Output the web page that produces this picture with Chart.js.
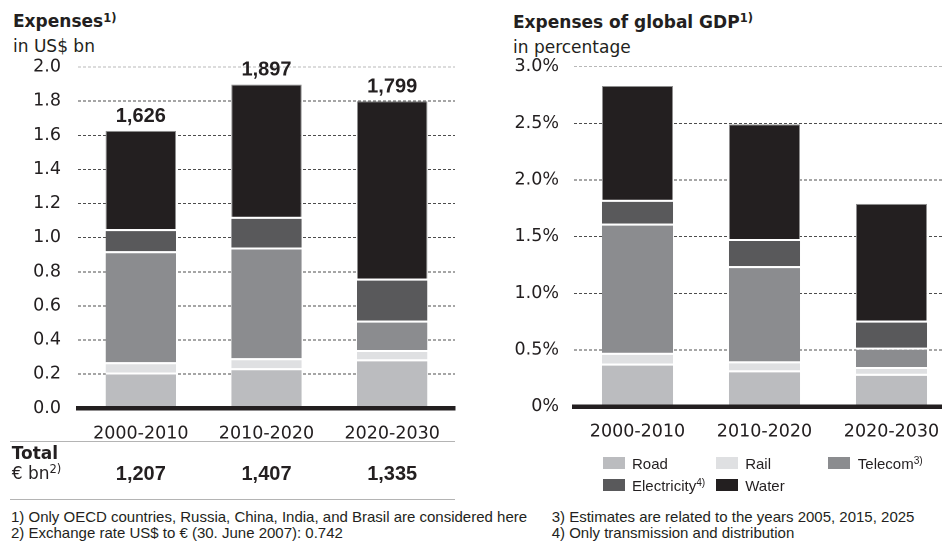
<!DOCTYPE html>
<html>
<head>
<meta charset="utf-8">
<script src="https://cdn.jsdelivr.net/npm/chart.js@4/dist/chart.umd.min.js"></script>
<style>
  html, body { margin: 0; padding: 0; background: #fff; }
  body { width: 942px; height: 541px; overflow: hidden; position: relative; color: #231f20; }
  .t { position: absolute; white-space: nowrap; line-height: 1; }
  .dv { font-family: "DejaVu Sans", sans-serif; }
  .ls { font-family: "Liberation Sans", Arial, sans-serif; }
  .b { font-weight: bold; }
  .sup { font-size: 0.68em; position: relative; top: -0.5em; }
  .box { position: absolute; }
  .rule { position: absolute; left: 10px; width: 445px; height: 1px; background: #b4b4b4; }
  .sw { position: absolute; width: 22px; height: 12px; }
</style>
</head>
<body>

<div class="t dv b" style="left:13px;top:13.3px;font-size:17px;">Expenses<span class="sup">1)</span></div>
<div class="t dv" style="left:13px;top:38px;font-size:17px;">in US$ bn</div>

<div class="t dv b" style="left:513px;top:13.9px;font-size:17px;">Expenses of global GDP<span class="sup">1)</span></div>
<div class="t dv" style="left:513px;top:38.5px;font-size:17px;">in percentage</div>

<div class="box" style="left:0;top:50px;width:470px;height:400px;"><canvas id="usdChart"></canvas></div>
<div class="box" style="left:470px;top:50px;width:485px;height:400px;"><canvas id="gdpChart"></canvas></div>

<div class="rule" style="top:441px;"></div>
<div class="t dv b" style="left:11.7px;top:444.9px;font-size:17px;">Total</div>
<div class="t dv" style="left:11.7px;top:464.9px;font-size:17px;">€ bn<span class="sup">2)</span></div>
<div id="eurRow"></div>
<div class="rule" style="top:499px;"></div>

<div id="legend"></div>

<div class="t ls" style="left:11px;top:508.8px;font-size:15px;">1) Only OECD countries, Russia, China, India, and Brasil are considered here</div>
<div class="t ls" style="left:11px;top:524.5px;font-size:15px;">2) Exchange rate US$ to € (30. June 2007): 0.742</div>
<div class="t ls" style="left:551.7px;top:508.8px;font-size:15px;">3) Estimates are related to the years 2005, 2015, 2025</div>
<div class="t ls" style="left:551.7px;top:524.5px;font-size:15px;">4) Only transmission and distribution</div>

<script>
// Periods on the category axis
const periods = ['2000-2010', '2010-2020', '2020-2030'];

// Infrastructure sectors (stack order bottom to top)
const sectorNames = ['Road', 'Rail', 'Telecom', 'Electricity', 'Water'];
const sectorNotes = ['', '', '3)', '4)', ''];
const sectorColors = ['#bbbcbf', '#dfe0e2', '#8b8c8f', '#59595b', '#231f20'];

// Expenses, US$ (left panel)
const roadUsd        = [0.210, 0.235, 0.287];
const railUsd        = [0.060, 0.058, 0.055];
const telecomUsd     = [0.650, 0.649, 0.172];
const electricityUsd = [0.130, 0.180, 0.246];
const waterUsd       = [0.576, 0.775, 1.039];

// Expenses as share of global GDP, % (right panel)
const roadGdp        = [0.380, 0.320, 0.290];
const railGdp        = [0.095, 0.080, 0.060];
const telecomGdp     = [1.140, 0.840, 0.170];
const electricityGdp = [0.210, 0.240, 0.240];
const waterGdp       = [1.005, 1.010, 1.030];

// Totals in € bn
const totalEur = [1207, 1407, 1335];

// Axis ticks
const usdTicks = [0, 0.2, 0.4, 0.6, 0.8, 1.0, 1.2, 1.4, 1.6, 1.8, 2.0];
const gdpTicks = [0, 0.5, 1.0, 1.5, 2.0, 2.5, 3.0];

const INK = '#231f20';
const fmtThousands = n => Math.round(n).toLocaleString('en-US');

function makeDatasets(series) {
  return series.map((values, k) => {
    const isTop = k === series.length - 1;
    return {
      label: sectorNames[k],
      data: values,
      backgroundColor: sectorColors[k],
      borderColor: isTop ? '#8f8f8f' : '#ffffff',
      borderWidth: isTop ? { top: 1, left: 1, right: 1, bottom: 0 } : { top: 2, left: 0, right: 0, bottom: 0 },
      borderSkipped: false,
      categoryPercentage: 1,
      barPercentage: 0.56
    };
  });
}

// keep the plot area exactly where the layout padding puts it
function noLabelPadding(s) {
  s.paddingTop = 0;
  s.paddingBottom = 0;
  s.paddingLeft = 0;
  s.paddingRight = 0;
}

function baseOptions(cfg) {
  return {
    responsive: true,
    maintainAspectRatio: false,
    animation: false,
    devicePixelRatio: 2,
    layout: { padding: cfg.padding },
    plugins: { legend: { display: false }, tooltip: { enabled: false } },
    scales: {
      x: {
        stacked: true,
        afterFit: s => { s.height = cfg.xHeight; noLabelPadding(s); },
        grid: { display: false, drawTicks: false },
        border: { display: true, width: 4.5, color: INK, z: 1 },
        ticks: { padding: 15, color: INK, font: { family: 'DejaVu Sans', size: 17.5 } }
      },
      y: {
        stacked: true,
        min: cfg.ticks[0],
        max: cfg.ticks[cfg.ticks.length - 1],
        afterFit: s => { s.width = cfg.yWidth; noLabelPadding(s); },
        afterBuildTicks: s => { s.ticks = cfg.ticks.map(v => ({ value: v })); },
        grid: {
          drawTicks: false,
          lineWidth: 1,
          color: c => {
            const v = c.tick ? c.tick.value : null;
            if (v === cfg.ticks[0]) return 'rgba(0,0,0,0)';
            if (v === cfg.ticks[cfg.ticks.length - 1]) return '#b8b8b8';
            return '#4d4d4d';
          }
        },
        border: { display: false, dash: [3, 2] },
        ticks: {
          padding: cfg.tickPad,
          color: INK,
          font: { family: 'DejaVu Sans', size: 17.5 },
          callback: cfg.fmt
        }
      }
    }
  };
}

// Stack totals printed above the left-hand bars
const stackTotals = {
  id: 'stackTotals',
  afterDatasetsDraw(chart) {
    const ctx = chart.ctx;
    const sets = chart.data.datasets;
    const topMeta = chart.getDatasetMeta(sets.length - 1);
    ctx.save();
    ctx.font = 'bold 20px "Liberation Sans", Arial, sans-serif';
    ctx.fillStyle = INK;
    ctx.textAlign = 'center';
    ctx.textBaseline = 'alphabetic';
    periods.forEach((p, i) => {
      const sum = sets.reduce((acc, d) => acc + d.data[i], 0);
      const bar = topMeta.data[i];
      ctx.fillText(fmtThousands(sum * 1000), bar.x, bar.y - 9);
    });
    ctx.restore();
  }
};

const usdChart = new Chart(document.getElementById('usdChart'), {
  type: 'bar',
  data: {
    labels: periods,
    datasets: makeDatasets([roadUsd, railUsd, telecomUsd, electricityUsd, waterUsd])
  },
  options: baseOptions({
    padding: { top: 17, right: 15, left: 0, bottom: 0 },
    xHeight: 41.7, yWidth: 78, tickPad: 17, ticks: usdTicks,
    fmt: v => Number(v).toFixed(1)
  }),
  plugins: [stackTotals]
});

const gdpChart = new Chart(document.getElementById('gdpChart'), {
  type: 'bar',
  data: {
    labels: periods,
    datasets: makeDatasets([roadGdp, railGdp, telecomGdp, electricityGdp, waterGdp])
  },
  options: baseOptions({
    padding: { top: 16.7, right: 0, left: 0, bottom: 0 },
    xHeight: 43.3, yWidth: 104, tickPad: 15, ticks: gdpTicks,
    fmt: v => (v === 0 ? '0%' : Number(v).toFixed(1) + '%')
  })
});

// € totals row, centred under each left-hand bar
const eurRow = document.getElementById('eurRow');
totalEur.forEach((v, i) => {
  const d = document.createElement('div');
  d.className = 't ls b';
  d.style.fontSize = '20px';
  d.style.top = '463.4px';
  d.style.left = usdChart.scales.x.getPixelForValue(i) + 'px';
  d.style.transform = 'translateX(-50%)';
  d.textContent = fmtThousands(v);
  eurRow.appendChild(d);
});

// Legend for the sectors
const legend = document.getElementById('legend');
const legendCols = [602.5, 715.7, 828.3];
const legendRows = [457, 479];
sectorNames.forEach((name, k) => {
  const col = legendCols[k % 3];
  const row = legendRows[Math.floor(k / 3)];
  const sw = document.createElement('div');
  sw.className = 'sw';
  sw.style.left = col + 'px';
  sw.style.top = row + 'px';
  sw.style.background = sectorColors[k];
  legend.appendChild(sw);
  const tx = document.createElement('div');
  tx.className = 't ls';
  tx.style.fontSize = '15px';
  tx.style.left = (col + 29.5) + 'px';
  tx.style.top = (row - 0.8) + 'px';
  tx.textContent = name;
  if (sectorNotes[k]) {
    const s = document.createElement('span');
    s.className = 'sup';
    s.textContent = sectorNotes[k];
    tx.appendChild(s);
  }
  legend.appendChild(tx);
});
</script>
</body>
</html>
